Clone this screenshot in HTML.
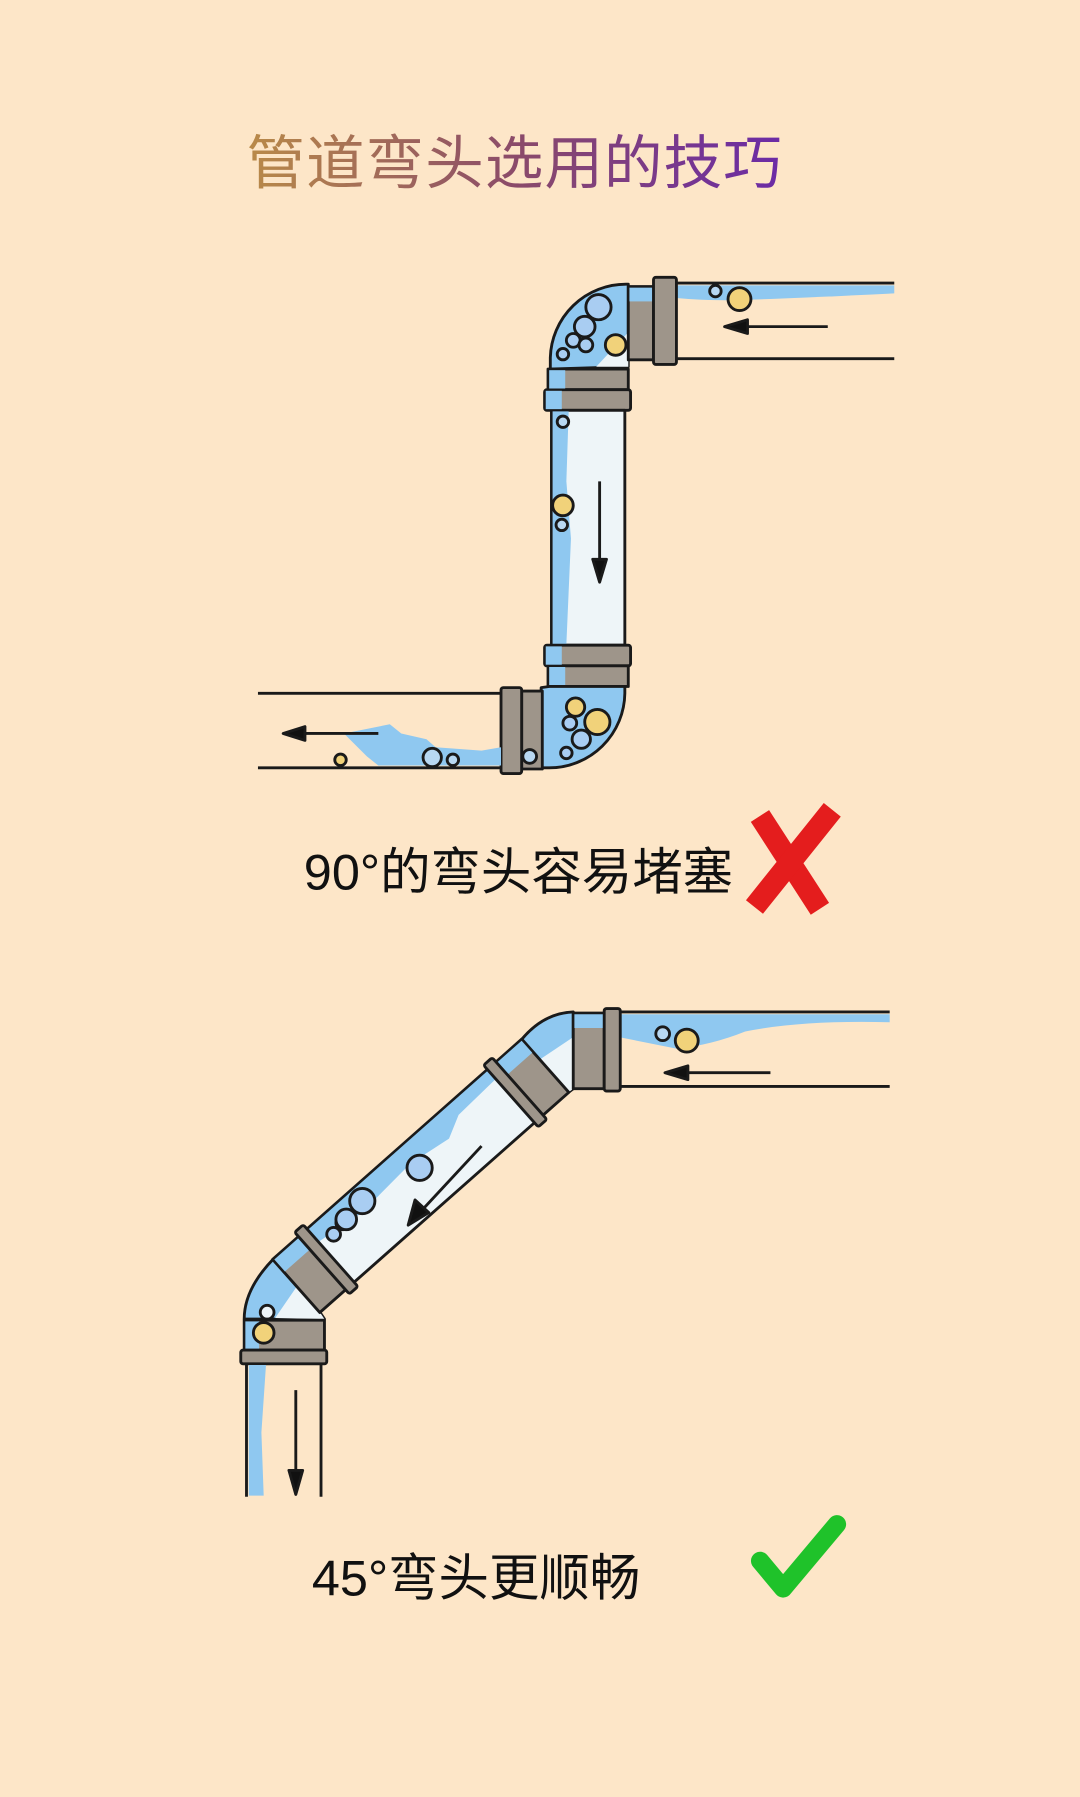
<!DOCTYPE html>
<html><head><meta charset="utf-8"><style>
html,body{margin:0;padding:0;background:#fde6c8;}
svg{display:block;}
text{font-family:"Liberation Sans","Noto Sans CJK SC",sans-serif;}
</style></head><body>
<svg width="1080" height="1797" viewBox="0 0 942 1568" preserveAspectRatio="none" xmlns="http://www.w3.org/2000/svg">
<defs>
<linearGradient id="tg" x1="215" y1="0" x2="690" y2="0" gradientUnits="userSpaceOnUse">
<stop offset="0" stop-color="#b98a48"/><stop offset="0.5" stop-color="#8a4a6a"/><stop offset="1" stop-color="#6a2aa8"/>
</linearGradient>
</defs>
<rect width="942" height="1568" fill="#fde6c8"/>
<text x="215" y="160" font-size="51" fill="url(#tg)" letter-spacing="1">管道弯头选用的技巧</text>

<g stroke="#1a1a1a" stroke-width="2.5" stroke-linejoin="round">
<path d="M590,249 L780,249 L780,256 Q700,260 640,262 Q610,262 590,260 Z" fill="#8fc8f0" stroke="none"/>
<line x1="590" y1="247" x2="780" y2="247"/>
<line x1="590" y1="313" x2="780" y2="313"/>
<circle cx="624" cy="254" r="5" fill="#b8d8f2"/>
<circle cx="645" cy="261" r="10" fill="#f1d27a"/>
<line x1="722" y1="285" x2="648" y2="285"/>
<path d="M632,285 L652,279 L652,291 Z" fill="#111"/>
<path d="M480,322 L480,312 A66,66 0 0 1 546,248 L548,248 L548,320 Z" fill="#8fc8f0"/>
<path d="M520,320 L548,290 L548,320 Z" fill="#eef5f8" stroke="none"/>
<circle cx="522" cy="268" r="11" fill="#a9cdf2"/>
<circle cx="510" cy="285" r="9" fill="#a9cdf2"/>
<circle cx="500" cy="297" r="6" fill="#a9cdf2"/>
<circle cx="491" cy="309" r="5" fill="#a9cdf2"/>
<circle cx="511" cy="301" r="6" fill="#a9cdf2"/>
<circle cx="537" cy="301" r="9" fill="#f1d27a"/>
<rect x="548" y="250" width="22" height="64" fill="#9e958a"/>
<rect x="549" y="251" width="20" height="12" fill="#8fc8f0" stroke="none"/>
<rect x="570" y="242" width="20" height="76" rx="2" fill="#9e958a"/>
<rect x="478" y="322" width="70" height="18" fill="#9e958a"/>
<rect x="475" y="340" width="75" height="18" rx="2" fill="#9e958a"/>
<rect x="481" y="358" width="64" height="205" fill="#eef5f8"/>
<path d="M482,359 L496,359 L494,420 L498,470 L494,562 L482,562 Z" fill="#8fc8f0" stroke="none"/>
<rect x="476" y="341" width="14" height="16" fill="#8fc8f0" stroke="none"/>
<rect x="479" y="323" width="14" height="16" fill="#8fc8f0" stroke="none"/>
<circle cx="491" cy="368" r="5" fill="#b8d8f2"/>
<circle cx="491" cy="441" r="9" fill="#f1d27a"/>
<circle cx="490" cy="458" r="5" fill="#b8d8f2"/>
<line x1="523" y1="420" x2="523" y2="490"/>
<path d="M523,508 L517,488 L529,488 Z" fill="#111"/>
<rect x="475" y="563" width="75" height="18" rx="2" fill="#9e958a"/>
<rect x="478" y="581" width="70" height="18" fill="#9e958a"/>
<rect x="476" y="564" width="14" height="16" fill="#8fc8f0" stroke="none"/>
<rect x="479" y="582" width="14" height="16" fill="#8fc8f0" stroke="none"/>
<path d="M479,599 L545,599 L545,605 A66,66 0 0 1 479,670 L472,670 L472,600 Z" fill="#8fc8f0"/>
<circle cx="502" cy="617" r="8" fill="#f1d27a"/>
<circle cx="497" cy="631" r="6" fill="#a9cdf2"/>
<circle cx="521" cy="630" r="11" fill="#f1d27a"/>
<circle cx="507" cy="645" r="8" fill="#a9cdf2"/>
<circle cx="494" cy="657" r="5" fill="#a9cdf2"/>
<rect x="455" y="603" width="18" height="68" fill="#9e958a"/>
<rect x="437" y="600" width="18" height="75" rx="2" fill="#9e958a"/>
<path d="M300,640 L340,632 L350,640 L372,645 L380,652 L420,655 L437,652 L437,668 L330,668 L320,660 Z" fill="#8fc8f0" stroke="none"/>
<line x1="225" y1="605" x2="437" y2="605"/>
<line x1="225" y1="670" x2="437" y2="670"/>
<circle cx="377" cy="661" r="8" fill="#b8d8f2"/>
<circle cx="395" cy="663" r="5" fill="#b8d8f2"/>
<circle cx="462" cy="660" r="6" fill="#b8d8f2"/>
<circle cx="297" cy="663" r="5" fill="#f1d27a"/>
<line x1="330" y1="640" x2="262" y2="640"/>
<path d="M247,640 L266,634 L266,646 Z" fill="#111"/>

<path d="M540,885 L776,885 L776,892 Q700,890 650,900 Q620,912 590,915 L540,905 Z" fill="#8fc8f0" stroke="none"/>
<line x1="540" y1="883" x2="776" y2="883"/>
<line x1="540" y1="948" x2="776" y2="948"/>
<circle cx="578" cy="902" r="6" fill="#b8d8f2"/>
<circle cx="599" cy="908" r="10" fill="#f1d27a"/>
<line x1="672" y1="936" x2="596" y2="936"/>
<path d="M580,936 L600,930 L600,942 Z" fill="#111"/>
<path d="M455,907 Q474,884 500,883 L500,950 L496,953 Z" fill="#8fc8f0"/>
<path d="M470,925 L500,905 L500,950 L496,953 Z" fill="#eef5f8" stroke="none"/>
<rect x="500" y="884" width="27" height="66" fill="#9e958a"/>
<rect x="501" y="885" width="25" height="12" fill="#8fc8f0" stroke="none"/>
<rect x="527" y="880" width="14" height="72" rx="2" fill="#9e958a"/>
<path d="M238,1099 Q213,1125 213,1151 L283,1151 L279,1145 Z" fill="#8fc8f0"/>
<path d="M240,1150 L262,1118 L279,1145 L283,1151 Z" fill="#eef5f8" stroke="none"/>
<g transform="translate(367,1026) rotate(-41.5)">
<rect x="-106" y="-31" width="212" height="62" fill="#eef5f8"/>
<path d="M-105,-30 L105,-30 L105,-20 L60,-18 L40,-8 L0,-14 L-60,-10 L-105,-16 Z" fill="#8fc8f0" stroke="none"/>
<rect x="115" y="-31" width="30" height="62" fill="#9e958a"/>
<rect x="-145" y="-31" width="30" height="62" fill="#9e958a"/>
<rect x="116" y="-30" width="28" height="14" fill="#8fc8f0" stroke="none"/>
<rect x="-144" y="-30" width="28" height="14" fill="#8fc8f0" stroke="none"/>
<rect x="105" y="-36" width="10" height="72" rx="2" fill="#9e958a"/>
<rect x="-115" y="-36" width="10" height="72" rx="2" fill="#9e958a"/>
</g>
<circle cx="366" cy="1019" r="11" fill="#a9cdf2"/>
<circle cx="299" cy="1067" r="6" fill="#f1d27a"/>
<circle cx="316" cy="1048" r="11" fill="#a9cdf2"/>
<circle cx="302" cy="1064" r="9" fill="#a9cdf2"/>
<circle cx="291" cy="1077" r="6" fill="#a9cdf2"/>
<line x1="420" y1="1000" x2="368" y2="1056"/>
<path d="M356,1069 L362,1047 L374,1058 Z" fill="#111"/>
<rect x="213" y="1152" width="70" height="26" fill="#9e958a"/>
<rect x="214" y="1153" width="12" height="24" fill="#8fc8f0" stroke="none"/>
<rect x="210" y="1178" width="75" height="12" rx="2" fill="#9e958a"/>
<path d="M217,1191 L232,1191 L228,1250 L230,1305 L217,1305 Z" fill="#8fc8f0" stroke="none"/>
<line x1="215" y1="1190" x2="215" y2="1306"/>
<line x1="280" y1="1190" x2="280" y2="1306"/>
<circle cx="230" cy="1163" r="9" fill="#f1d27a"/>
<circle cx="233" cy="1145" r="6" fill="#eef5f8"/>
<line x1="258" y1="1213" x2="258" y2="1285"/>
<path d="M258,1304 L252,1283 L264,1283 Z" fill="#111"/>
</g>

<text x="265" y="776" font-size="44" fill="#111">90°的弯头容易堵塞</text>
<g stroke="#e41d1d" stroke-width="19" stroke-linecap="square">
<line x1="668" y1="720" x2="710" y2="785"/>
<line x1="720" y1="714" x2="664" y2="784"/>
</g>
<text x="272" y="1392" font-size="44" fill="#111">45°弯头更顺畅</text>
<path d="M663,1362 L683,1386 L730,1330" fill="none" stroke="#1fc22a" stroke-width="16" stroke-linecap="round" stroke-linejoin="round"/>
</svg>
</body></html>
